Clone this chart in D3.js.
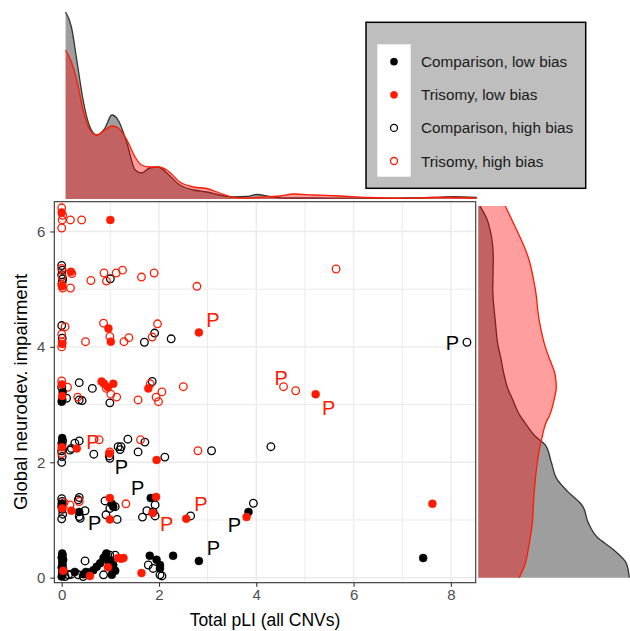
<!DOCTYPE html>
<html>
<head>
<meta charset="utf-8">
<script src="https://cdn.jsdelivr.net/npm/d3@7"></script>
<style>
  body { margin: 0; background: #fff; }
  text { font-family: "Liberation Sans", Arial, sans-serif; }
</style>
</head>
<body>
<svg width="630" height="631"></svg>
<script>
// points, one pair of arrays per group
var compLowX = [0, 0.02, 0.01, 0.03, 0, 0.02, 0.01, 0.03, 0, 0.02, 0.01, 0.27, 0.45, 0.5, 0.58, 0.65, 0.72, 0.79, 0.86, 0.92, 0.96, 1.03, 1.03, 0.9, 1.0, 1.06, 1.1, 1.81, 1.95, 2.02, 2.02, 2.29, 2.82, 7.43,
  0, 0.01, 0.36, 1.03, 1.06, 1.83, 3.84,
  0.01, 0, 0.02, 0];
var compLowY = [0.02, 0.06, 0.1, 0.14, 0.18, 0.22, 0.27, 0.31, 0.35, 0.39, 0.42, 0.1, 0.06, 0.1, 0.09, 0.13, 0.19, 0.25, 0.34, 0.42, 0.28, 0.16, 0.05, 0.38, 0.3, 0.22, 0.12, 0.38, 0.31, 0.22, 0.16, 0.38, 0.29, 0.34,
  1.28, 1.18, 1.14, 1.28, 1.23, 1.38, 1.14,
  2.42, 2.33, 3.22, 3.05];

var triLowX = [0.03, 0.58, 1.16, 1.27, 1.22, 1.64, 0.95,
  0.2, 0.99, 0.99, 1.94, 1.87, 2.56, 3.8, 7.62, 0.01,
  0, 0.31, 1.95, 0.98,
  0, 0.01, 0.82, 0.87, 1.06, 1.78, 5.22, 0.95,
  0.01, 0.96, 1.01, 2.82,
  0.19, 0.01,
  0, 1.0];
var triLowY = [0.12, 0.03, 0.34, 0.34, 0.33, 0.08, 0.18,
  1.16, 1.38, 1.01, 1.4, 1.12, 1.02, 1.05, 1.28, 1.2,
  2.26, 2.24, 2.04, 2.15,
  3.35, 3.15, 3.4, 3.36, 3.36, 3.28, 3.18, 3.3,
  4.05, 4.32, 4.09, 4.25,
  5.3, 5.05,
  6.33, 6.2];

var compHighX = [0.07, 0.2, 0.14, 0.34, 0.44, 0.48, 0.86, 0.99, 1.1, 1.78, 1.88, 2.02, 2.06,
  0, 0.01, 0, 0.02, 0, 0.36, 0.36, 0.48, 0.38, 0.89, 0.91, 0.99, 1.1, 1.14, 1.66, 1.75, 1.92, 1.88, 1.92, 2.65, 3.94, 0.34,
  0, 0.01, 0, 0.02, 0.2, 0.27, 0.36, 0.17, 0.66, 0.98, 0.99, 1.16, 1.22, 1.2, 1.36, 1.71, 1.57, 2.12, 3.08, 4.3,
  0, 0.01, 0.36, 0.63, 0.1, 0.36, 0.42, 0.99, 1.86,
  0, 0.01, 1.7, 1.91, 2.25, 8.33,
  0, 0.01, 0, 0.02, 0.01, 1.0];
var compHighY = [0.02, 0.06, 0.05, 0.05, 0.02, 0.29, 0.05, 0.39, 0.39, 0.22, 0.16, 0.05, 0.03,
  1.37, 1.32, 1.23, 1.1, 1.02, 1.39, 1.06, 1.16, 1.03, 1.33, 1.09, 1.2, 1.23, 1.01, 1.05, 1.16, 1.26, 1.14, 1.07, 1.07, 1.29, 1.35,
  2.0, 2.1, 2.2, 2.37, 2.24, 2.33, 2.37, 2.21, 2.14, 2.11, 2.07, 2.27, 2.27, 2.22, 2.4, 2.35, 2.18, 2.09, 2.2, 2.27,
  3.3, 3.08, 3.38, 3.28, 3.11, 3.08, 3.07, 3.03, 3.4,
  4.37, 4.15, 4.08, 4.24, 4.14, 4.08,
  5.41, 5.33, 5.25, 5.18, 5.12, 5.18];

var triHighX = [0.17, 0.36, 1.32, 0.05,
  0, 0.01, 0.77, 0.99, 1.62, 2.8,
  0, 0.33, 0.92, 1.01, 1.13, 1.57, 1.82, 2.06, 1.94, 1.99, 2.5, 4.56, 4.81, 0.12,
  0.07, 0, 0.01, 0.49, 0.86, 0.99, 1.28, 1.38, 1.86, 1.97, 0,
  0, 0.01, 0, 0.02, 0.18, 0.6, 0.87, 0.92, 1.12, 1.25, 1.64, 1.9, 2.78, 5.64, 0.21,
  0, 0.01, 0, 0.18, 0.41, 0.02];
var triHighY = [1.26, 1.32, 1.28, 1.3,
  2.15, 2.3, 2.39, 2.18, 2.39, 2.2,
  3.41, 3.13, 3.28, 3.18, 3.13, 3.08, 3.36, 3.22, 3.13, 3.05, 3.31, 3.31, 3.24, 3.3,
  4.35, 4.22, 4.08, 4.09, 4.41, 4.18, 4.09, 4.16, 4.17, 4.4, 4.0,
  5.36, 5.22, 5.08, 5.02, 5.02, 5.15, 5.28, 5.14, 5.28, 5.33, 5.21, 5.28, 5.05, 5.35, 5.27,
  6.41, 6.2, 6.06, 6.2, 6.2, 6.28];

// "P" labels
var labelX = [3.11, 8.03, 4.51, 5.49, 0.64, 1.23, 1.56, 2.86, 0.68, 2.16, 3.55, 3.12];
var labelY = [4.47, 4.07, 3.46, 2.94, 2.35, 1.92, 1.55, 1.28, 0.95, 0.93, 0.91, 0.51];
var labelTrisomy = [1, 0, 1, 1, 1, 0, 0, 1, 0, 1, 0, 0];

// marginal density of x (top)
var topGrid = [0.08, 0.2, 0.31, 0.44, 0.58, 0.72, 0.89, 1.03, 1.16, 1.34, 1.51, 1.64, 1.81, 1.99, 2.16, 2.43, 2.71, 2.98, 3.25, 3.53, 3.8, 4.01, 4.28, 4.49, 4.76, 5.17, 5.72, 6.27, 7.09, 7.64, 8.05, 8.53];
var topComp = [187, 172, 139, 99, 72, 64, 71, 84, 79, 56, 29, 26, 31, 32, 26, 14, 9, 7, 4, 2, 2.5, 4.5, 2.5, 1.2, 1, 1, 0.8, 0.8, 1, 1.7, 2.3, 1.5];
var topTri = [149, 137, 119, 89, 69, 64, 69, 73, 71, 59, 42, 34, 32, 32, 29, 17, 12, 10.5, 6, 1.7, 1, 1.5, 2.3, 3, 5, 4, 3, 1.5, 0.8, 1.5, 1.5, 0.8];

// marginal density of y (right)
var rightGrid = [0, 0.25, 0.5, 0.7, 0.95, 1.25, 1.5, 1.7, 2.0, 2.3, 2.45, 2.7, 2.8, 3.1, 3.3, 3.5, 3.85, 4.0, 4.45, 5.0, 5.55, 6.15, 6.44];
var rightComp = [151, 148, 134, 119, 110, 104, 89, 79, 73, 67, 57, 46, 42, 34, 29, 26, 22, 20, 17, 14.5, 15, 10, 1.7];
var rightTri = [41, 47, 50, 52, 54, 55, 56, 57, 59, 62, 64, 68, 71, 76, 78, 77, 70, 67, 61, 57, 50, 35, 27];

var legendLabels = ["Comparison, low bias", "Trisomy, low bias", "Comparison, high bias", "Trisomy, high bias"];

var svg = d3.select("svg");
var red = "#ff1a00";

var panel = { left: 54.3, right: 475.7, top: 201.7, bottom: 582.7 };

var x = d3.scaleLinear().domain([-0.152, 8.51]).range([panel.left, panel.right]);
var y = d3.scaleLinear().domain([-0.087, 6.516]).range([panel.bottom, panel.top]);

// top density
var topY = d3.scaleLinear().domain([0, 187]).range([199, 12]);
var topArea = d3.area().curve(d3.curveMonotoneX)
  .x(function (d) { return x(d[0]); })
  .y0(199)
  .y1(function (d) { return topY(d[1]); });
var topLine = d3.line().curve(d3.curveMonotoneX)
  .x(function (d) { return x(d[0]); })
  .y(function (d) { return topY(d[1]); });

[[topComp, "#000", "#333"], [topTri, "#ff0000", red]].forEach(function (s) {
  var pts = d3.zip(topGrid, s[0]);
  svg.append("path").attr("d", topArea(pts)).attr("fill", s[1]).attr("fill-opacity", 0.38);
  svg.append("path").attr("d", topLine(pts)).attr("fill", "none").attr("stroke", s[2]).attr("stroke-width", 1.3);
});

// right density
var rightX = d3.scaleLinear().domain([0, 151.7]).range([478.3, 630]);
var rightArea = d3.area().curve(d3.curveMonotoneY)
  .y(function (d) { return y(d[0]); })
  .x0(478.3)
  .x1(function (d) { return rightX(d[1]); });
var rightLine = d3.line().curve(d3.curveMonotoneY)
  .y(function (d) { return y(d[0]); })
  .x(function (d) { return rightX(d[1]); });

[[rightComp, "#000", "#333"], [rightTri, "#ff0000", red]].forEach(function (s) {
  var pts = d3.zip(rightGrid, s[0]);
  svg.append("path").attr("d", rightArea(pts)).attr("fill", s[1]).attr("fill-opacity", 0.38);
  svg.append("path").attr("d", rightLine(pts)).attr("fill", "none").attr("stroke", s[2]).attr("stroke-width", 1.3);
});

// panel + grid
svg.append("rect")
  .attr("x", panel.left).attr("y", panel.top)
  .attr("width", panel.right - panel.left).attr("height", panel.bottom - panel.top)
  .attr("fill", "#fff");

var grid = svg.append("g");
[1, 3, 5, 7, 0, 2, 4, 6, 8].forEach(function (v) {
  grid.append("line")
    .attr("x1", x(v)).attr("x2", x(v)).attr("y1", panel.top).attr("y2", panel.bottom)
    .attr("stroke", "#ebebeb").attr("stroke-width", v % 2 ? 1 : 1.4);
});
[1, 3, 5, 0, 2, 4, 6].forEach(function (v) {
  grid.append("line")
    .attr("y1", y(v)).attr("y2", y(v)).attr("x1", panel.left).attr("x2", panel.right)
    .attr("stroke", "#ebebeb").attr("stroke-width", v % 2 ? 1 : 1.4);
});

// points
function drawPoints(xs, ys, color, filled) {
  svg.append("g").selectAll("circle")
    .data(d3.zip(xs, ys))
    .enter()
    .append("circle")
    .attr("cx", function (d) { return x(d[0]); })
    .attr("cy", function (d) { return y(d[1]); })
    .attr("r", filled ? 4 : 3.8)
    .attr("fill", filled ? color : "none")
    .attr("stroke", color)
    .attr("stroke-width", filled ? 0.5 : 1.3);
}
drawPoints(compHighX, compHighY, "#000", false);
drawPoints(triHighX, triHighY, red, false);
drawPoints(compLowX, compLowY, "#000", true);
drawPoints(triLowX, triLowY, red, true);

// P labels
svg.append("g").selectAll("text")
  .data(labelX)
  .enter()
  .append("text")
  .attr("x", function (d) { return x(d); })
  .attr("y", function (d, i) { return y(labelY[i]); })
  .attr("dy", "0.36em")
  .attr("text-anchor", "middle")
  .attr("font-size", 20)
  .attr("fill", function (d, i) { return labelTrisomy[i] ? red : "#000"; })
  .text("P");

// border
svg.append("rect")
  .attr("x", panel.left).attr("y", panel.top)
  .attr("width", panel.right - panel.left).attr("height", panel.bottom - panel.top)
  .attr("fill", "none").attr("stroke", "#333").attr("stroke-width", 1.1);

// axes
var xAxis = svg.append("g")
  .attr("transform", "translate(0," + panel.bottom + ")")
  .call(d3.axisBottom(x).tickValues([0, 2, 4, 6, 8]).tickFormat(d3.format("d")).tickSize(4).tickPadding(3));
var yAxis = svg.append("g")
  .attr("transform", "translate(" + panel.left + ",0)")
  .call(d3.axisLeft(y).tickValues([0, 2, 4, 6]).tickFormat(d3.format("d")).tickSize(4).tickPadding(5));
[xAxis, yAxis].forEach(function (a) {
  a.select(".domain").remove();
  a.selectAll(".tick line").attr("stroke", "#333").attr("stroke-width", 1.1);
  a.selectAll(".tick text").attr("fill", "#4d4d4d").attr("font-size", 15)
    .attr("font-family", "Liberation Sans, Arial, sans-serif");
});

svg.append("text")
  .attr("x", (panel.left + panel.right) / 2).attr("y", 626)
  .attr("text-anchor", "middle").attr("font-size", 17.5)
  .text("Total pLI (all CNVs)");
svg.append("text")
  .attr("transform", "translate(27,392) rotate(-90)")
  .attr("text-anchor", "middle").attr("font-size", 18.5)
  .text("Global neurodev. impairment");

// legend
var lg = svg.append("g");
lg.append("rect").attr("x", 366).attr("y", 22.3).attr("width", 219.7).attr("height", 166)
  .attr("fill", "#bebebe").attr("stroke", "#000").attr("stroke-width", 1.5);
lg.append("rect").attr("x", 377.3).attr("y", 44.3).attr("width", 33.4).attr("height", 132.4)
  .attr("fill", "#fff");
var keys = lg.selectAll(".key")
  .data(legendLabels)
  .enter()
  .append("g")
  .attr("transform", function (d, i) { return "translate(394," + (61.7 + i * 33.1) + ")"; });
keys.append("circle")
  .attr("r", function (d, i) { return i < 2 ? 3.6 : 3.5; })
  .attr("fill", function (d, i) { return i == 0 ? "#000" : i == 1 ? red : "none"; })
  .attr("stroke", function (d, i) { return i % 2 ? red : "#000"; })
  .attr("stroke-width", function (d, i) { return i < 2 ? 0.5 : 1.3; });
keys.append("text")
  .attr("x", 27).attr("dy", "0.36em")
  .attr("font-size", 15.3).attr("fill", "#1a1a1a")
  .text(function (d) { return d; });
</script>
</body>
</html>
